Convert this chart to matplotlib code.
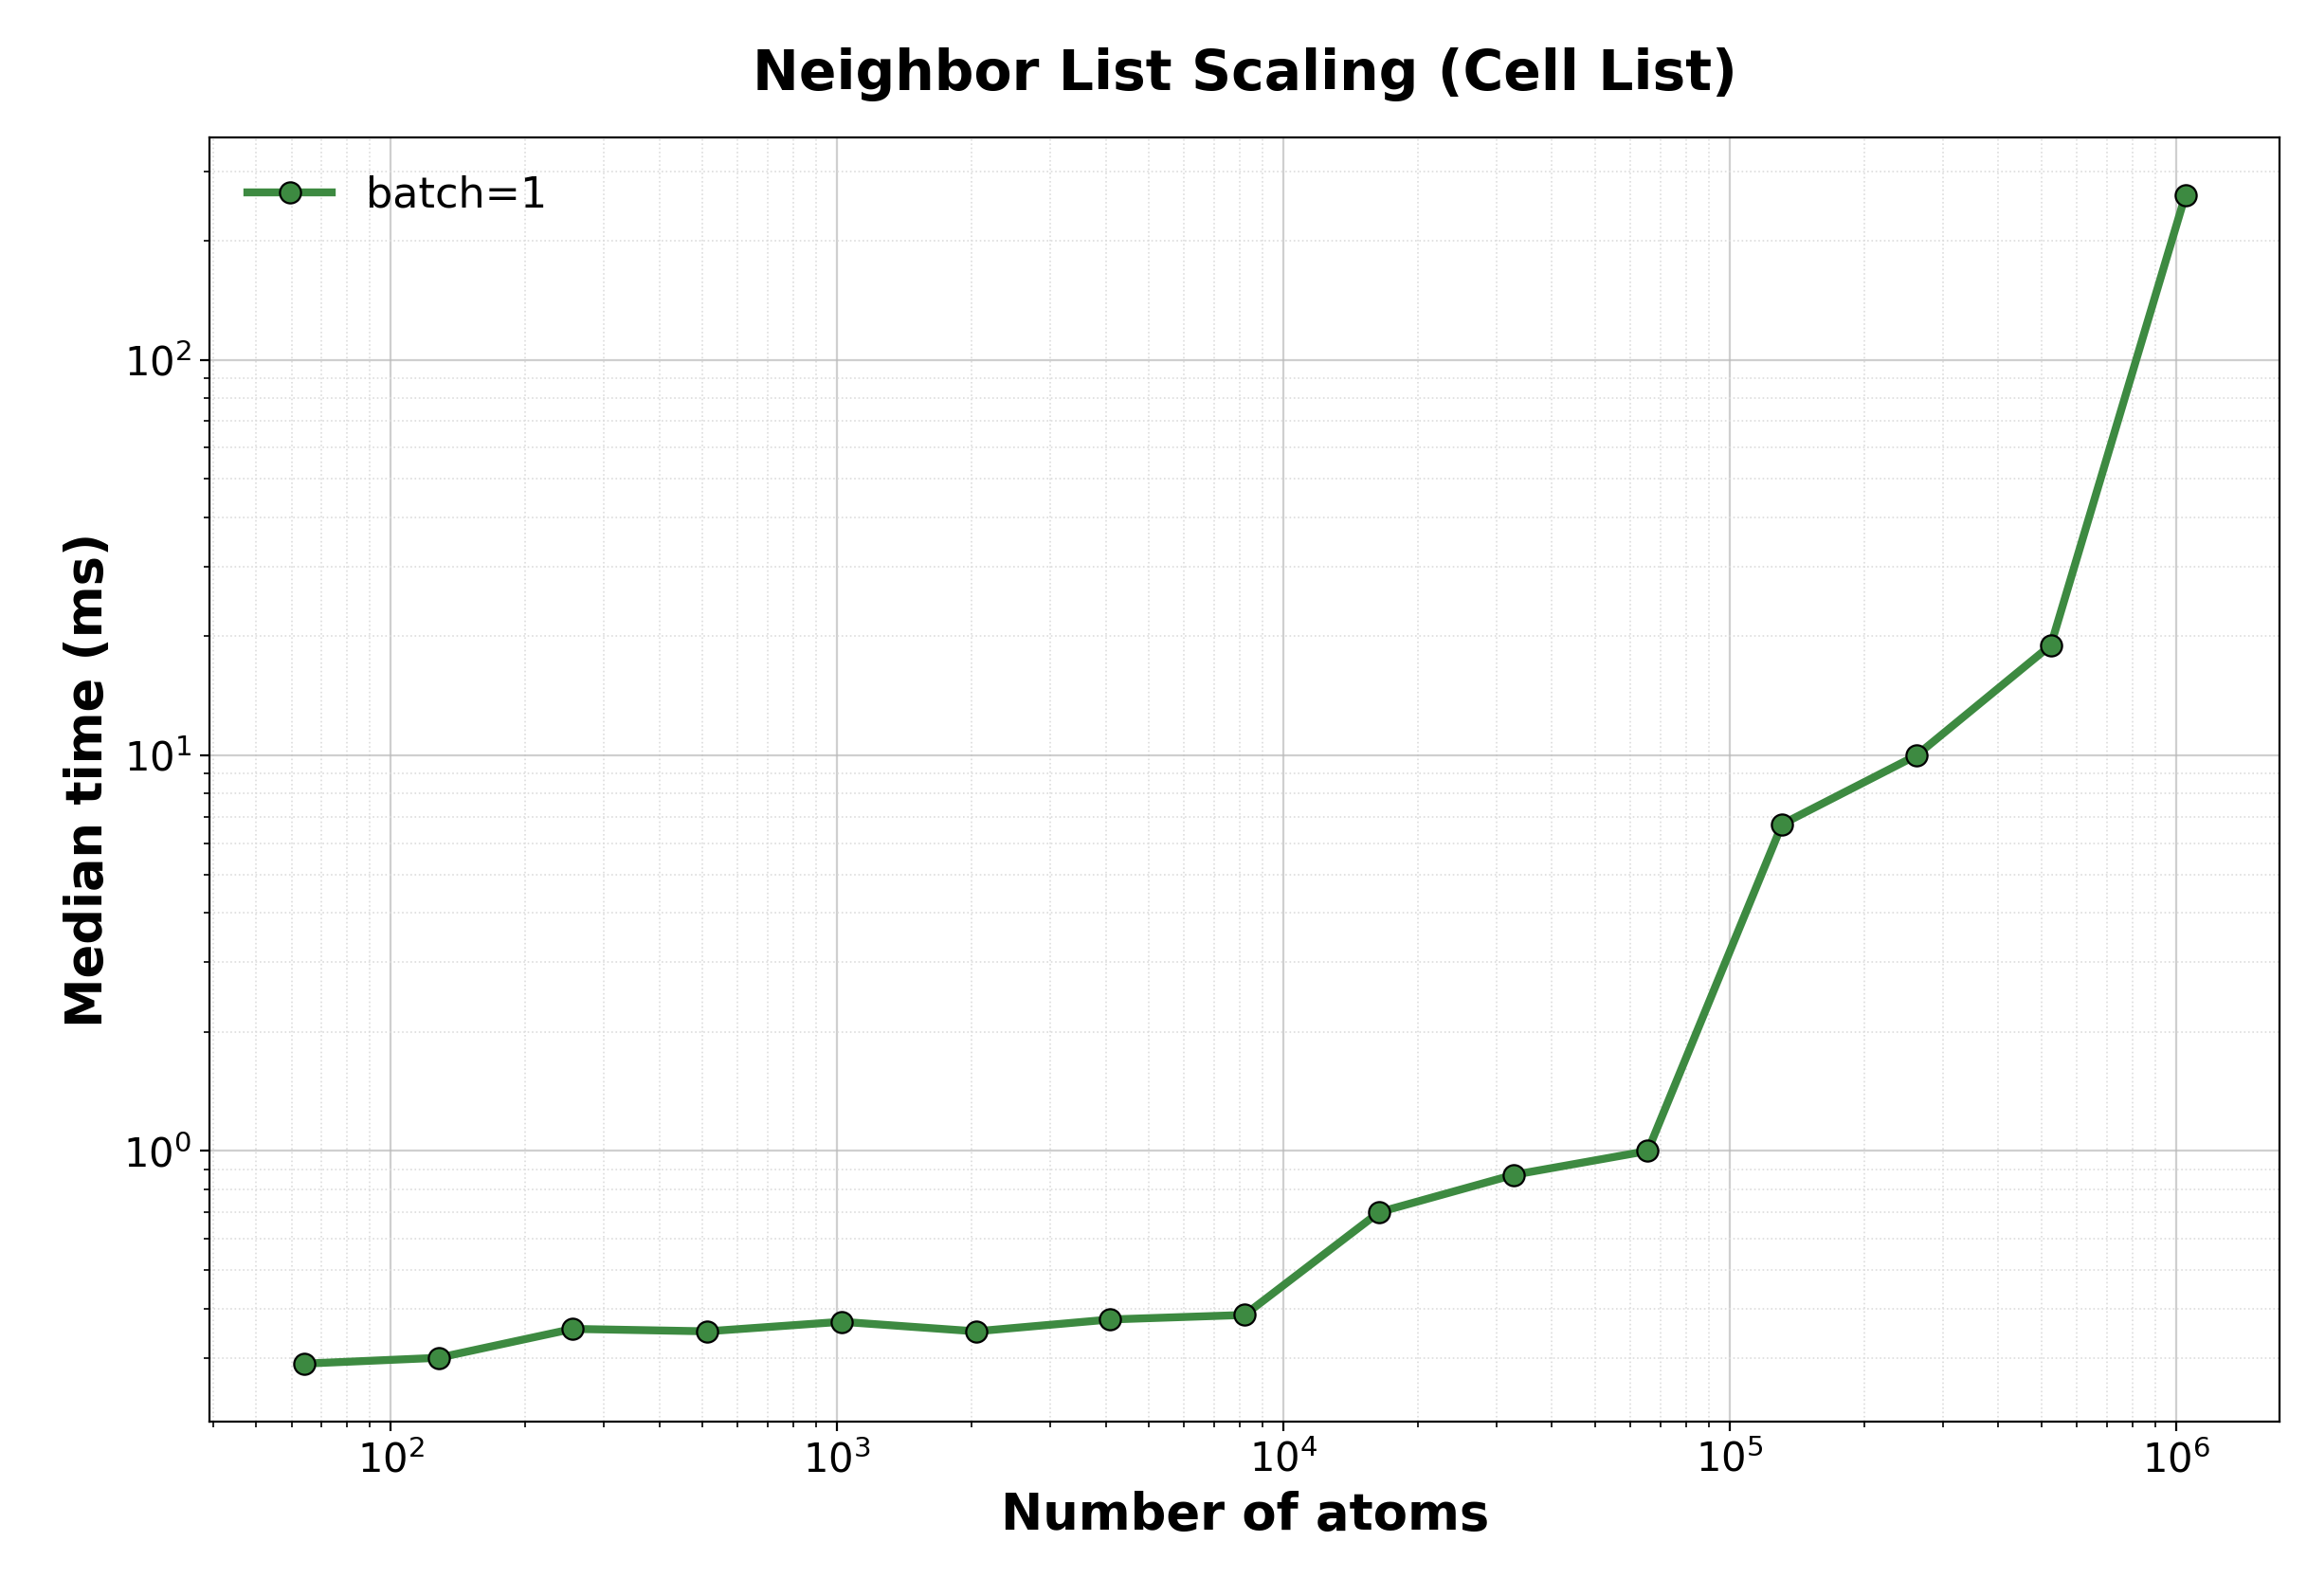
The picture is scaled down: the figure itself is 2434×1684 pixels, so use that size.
import matplotlib
matplotlib.use("Agg")
import matplotlib.pyplot as plt

# data
atoms = [64, 128, 256, 512, 1024, 2048, 4096, 8192, 16384, 32768, 65536,
         131072, 262144, 524288, 1048576]
median_ms = [0.29, 0.30, 0.355, 0.35, 0.37, 0.35, 0.375, 0.385, 0.70, 0.87,
             1.0, 6.7, 10.0, 19.0, 260.0]

fig, ax = plt.subplots(figsize=(12.17, 8.42), dpi=200)
ax.plot(atoms, median_ms, color="#3d8a41", linewidth=3, marker="o",
        markersize=8, markeredgecolor="black", markeredgewidth=0.8,
        label="batch=1")
ax.set_xscale("log")
ax.set_yscale("log")
ax.grid(True, which="major", color="#bbbbbb", linewidth=0.8, alpha=0.7)
ax.grid(True, which="minor", color="#dddddd", linestyle=":", linewidth=0.6)
ax.set_xlabel("Number of atoms", fontsize=19, fontweight="bold")
ax.set_ylabel("Median time (ms)", fontsize=19, fontweight="bold")
ax.set_title("Neighbor List Scaling (Cell List)", fontsize=21,
             fontweight="bold", pad=18)
ax.tick_params(labelsize=15)
ax.legend(loc="upper left", fontsize=16, frameon=False)
fig.subplots_adjust(left=0.091, right=0.988, top=0.914, bottom=0.109)
fig.savefig("out.png", dpi=200)
